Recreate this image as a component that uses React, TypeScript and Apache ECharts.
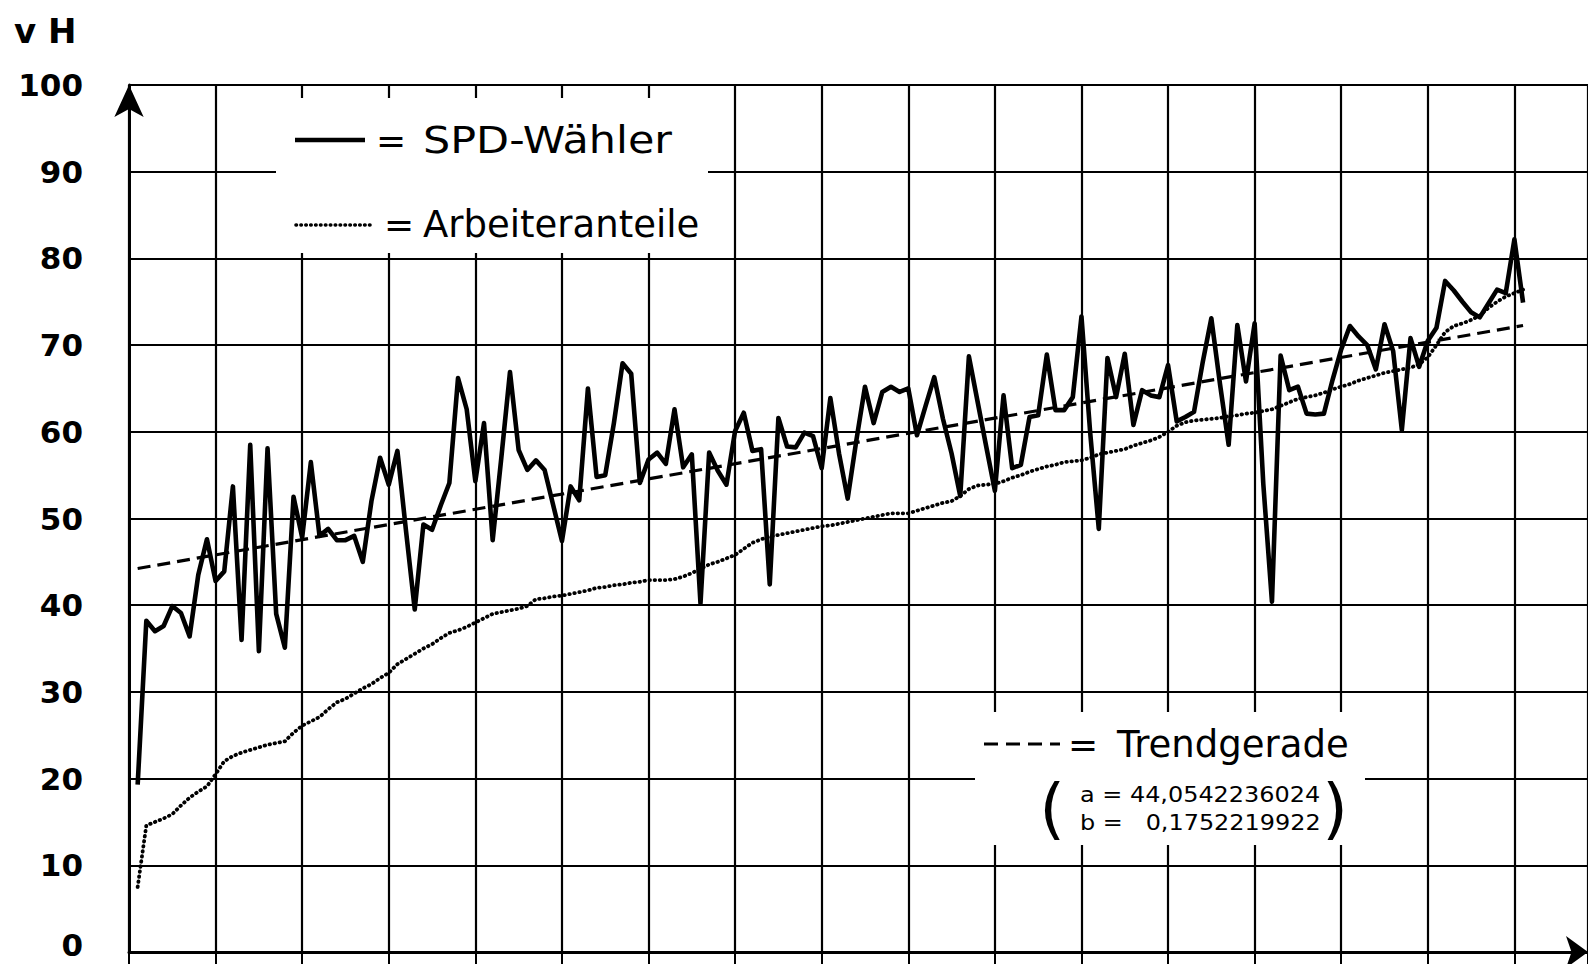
import React, { useEffect, useRef } from "react";
import * as echarts from "echarts";

// SPD-Wähler (vH), Wahlkreise 1..161, sorted by Arbeiteranteil
const spdWaehler: number[] = [
  19.3, 38.2, 37.0, 37.6, 39.9, 39.1, 36.4, 43.5, 47.6, 42.8,
  43.9, 53.7, 36.0, 58.5, 34.7, 58.1, 39.0, 35.1, 52.5, 47.8,
  56.5, 48.0, 48.8, 47.5, 47.5, 48.0, 45.0, 52.0, 57.0, 53.9,
  57.8, 48.5, 39.5, 49.3, 48.7, 51.5, 54.1, 66.2, 62.6, 54.3,
  61.0, 47.5, 57.0, 66.9, 57.9, 55.6, 56.7, 55.6, 51.5, 47.4,
  53.7, 52.1, 65.0, 54.8, 55.0, 61.0, 67.9, 66.7, 54.1, 56.8,
  57.6, 56.3, 62.6, 55.9, 57.4, 40.2, 57.6, 55.5, 53.9, 60.1,
  62.2, 57.8, 58.0, 42.4, 61.6, 58.3, 58.2, 59.9, 59.5, 55.8,
  63.9, 57.5, 52.3, 59.0, 65.2, 61.0, 64.6, 65.2, 64.6, 65.0,
  59.6, 63.0, 66.3, 61.5, 57.5, 52.6, 68.7, 63.5, 58.3, 53.2,
  64.2, 55.8, 56.2, 61.7, 61.9, 68.9, 62.5, 62.5, 64.0, 73.3,
  60.0, 48.8, 68.5, 64.0, 69.0, 60.8, 64.8, 64.2, 64.0, 67.7,
  61.2, 61.7, 62.3, 68.0, 73.1, 65.5, 58.5, 72.3, 65.8, 72.5,
  54.0, 40.4, 68.8, 64.8, 65.2, 62.1, 62.0, 62.1, 66.0, 69.5,
  72.2, 71.0, 70.0, 67.2, 72.4, 69.3, 60.2, 70.8, 67.5, 70.5,
  72.0, 77.4, 76.3, 75.0, 73.8, 73.2, 74.8, 76.4, 76.0, 82.2,
  74.9,
];

// Arbeiteranteile (vH)
const arbeiteranteile: number[] = [
  7.5, 14.6, 15.0, 15.4, 15.9, 16.9, 17.8, 18.5, 19.1, 20.5,
  22.0, 22.6, 23.0, 23.3, 23.6, 23.9, 24.1, 24.3, 25.3, 26.1,
  26.6, 27.1, 28.0, 28.8, 29.2, 29.8, 30.4, 30.9, 31.6, 32.2,
  33.2, 33.8, 34.4, 35.0, 35.5, 36.2, 36.8, 37.1, 37.5, 38.0,
  38.5, 39.0, 39.2, 39.4, 39.6, 39.9, 40.7, 40.8, 41.0, 41.1,
  41.3, 41.5, 41.7, 42.0, 42.1, 42.3, 42.4, 42.6, 42.7, 42.9,
  42.9, 42.9, 43.0, 43.3, 43.7, 44.2, 44.7, 45.0, 45.4, 45.8,
  46.5, 47.2, 47.6, 47.9, 48.1, 48.3, 48.5, 48.7, 48.9, 49.1,
  49.2, 49.4, 49.6, 49.8, 50.0, 50.2, 50.4, 50.6, 50.6, 50.6,
  50.9, 51.2, 51.5, 51.8, 52.0, 52.6, 53.4, 53.8, 53.9, 54.0,
  54.3, 54.7, 55.0, 55.4, 55.7, 56.0, 56.2, 56.5, 56.6, 56.7,
  57.0, 57.4, 57.6, 57.8, 58.0, 58.4, 58.7, 59.0, 59.4, 60.0,
  60.7, 61.1, 61.3, 61.4, 61.5, 61.6, 61.8, 61.9, 62.1, 62.2,
  62.4, 62.6, 63.0, 63.4, 63.8, 64.0, 64.2, 64.5, 64.9, 65.2,
  65.5, 65.9, 66.2, 66.5, 66.8, 67.0, 67.2, 67.4, 67.8, 68.6,
  70.0, 71.5, 72.2, 72.5, 72.9, 73.4, 74.3, 75.0, 75.6, 76.0,
  76.4,
];

// Trendgerade y = a + b * x
const trendA = 44.0542236024;
const trendB = 0.1752219922;
const trendLabelA = "a = 44,0542236024";
const trendLabelB = "b =   0,1752219922";

const yTicks = [0, 10, 20, 30, 40, 50, 60, 70, 80, 90, 100];
const yUnit = "v H";
const legendSpd = "SPD-Wähler";
const legendArb = "Arbeiteranteile";
const legendTrend = "Trendgerade";

const FONT = "'DejaVu Sans', sans-serif";

export default function App() {
  const ref = useRef<HTMLDivElement>(null);

  useEffect(() => {
    if (!ref.current) return;
    const chart = echarts.init(ref.current, undefined, { renderer: "svg" });
    const n = spdWaehler.length;
    const spdData = spdWaehler.map((v, k) => [k + 1, v]);
    const arbData = arbeiteranteile.map((v, k) => [k + 1, v]);
    const trendData = [
      [1, trendA + trendB * 1],
      [n, trendA + trendB * n],
    ];

    chart.setOption({
      animation: false,
      backgroundColor: "#ffffff",
      grid: { left: 129, right: 0, top: 85, bottom: 12, containLabel: false },
      xAxis: {
        type: "value",
        min: 0,
        max: 168.5,
        interval: 10,
        axisLine: {
          show: true,
          onZero: false,
          lineStyle: { color: "#000", width: 3 },
          symbol: ["none", "arrow"],
          symbolSize: [24, 22],
        },
        axisTick: { show: true, inside: false, length: 12, lineStyle: { color: "#000", width: 2 } },
        axisLabel: { show: false },
        splitLine: { show: true, lineStyle: { color: "#000", width: 2.2 } },
      },
      yAxis: {
        type: "value",
        min: yTicks[0],
        max: yTicks[yTicks.length - 1],
        interval: 10,
        axisLine: {
          show: true,
          onZero: false,
          lineStyle: { color: "#000", width: 3 },
          symbol: ["none", "arrow"],
          symbolSize: [22, 32],
        },
        axisTick: { show: false },
        axisLabel: {
          show: true,
          color: "#000",
          fontSize: 31,
          lineHeight: 22,
          fontWeight: "bold",
          fontFamily: FONT,
          margin: 46,
          formatter: (v: number) => (v === yTicks[0] ? "" : String(v)),
        },
        splitLine: { show: true, lineStyle: { color: "#000", width: 2.2 } },
      },
      series: [
        {
          name: legendArb,
          type: "line",
          data: arbData,
          symbol: "none",
          z: 3,
          lineStyle: { color: "#000", width: 3.8, type: [0.5, 4.6], cap: "round" },
        },
        {
          name: legendTrend,
          type: "line",
          data: trendData,
          symbol: "none",
          z: 3,
          lineStyle: { color: "#000", width: 3.2, type: [13, 7] },
        },
        {
          name: legendSpd,
          type: "line",
          data: spdData,
          symbol: "none",
          z: 4,
          lineStyle: { color: "#000", width: 4.6, join: "round" },
        },
      ],
      graphic: [
        {
          type: "text",
          x: 14,
          y: 31,
          style: { text: yUnit, font: `bold 34px ${FONT}`, fill: "#000", textVerticalAlign: "middle" },
        },
        {
          type: "text",
          x: 83,
          y: 945,
          style: {
            text: String(yTicks[0]),
            font: `bold 31px ${FONT}`,
            lineHeight: 22,
            fill: "#000",
            textAlign: "right",
            textVerticalAlign: "middle",
          },
        },
        // legend box
        {
          type: "rect",
          shape: { x: 276, y: 98, width: 432, height: 155 },
          style: { fill: "#fff" },
          z: 10,
        },
        {
          type: "line",
          shape: { x1: 295, y1: 140, x2: 365, y2: 140 },
          style: { stroke: "#000", lineWidth: 4.6 },
          z: 11,
        },
        {
          type: "text",
          x: 376,
          y: 140,
          style: { text: "=", font: `36px ${FONT}`, fill: "#000", textVerticalAlign: "middle" },
          z: 11,
        },
        {
          type: "text",
          x: 423,
          y: 140,
          scaleX: 1.16,
          style: { text: legendSpd, font: `37px ${FONT}`, fill: "#000", textVerticalAlign: "middle" },
          z: 11,
        },
        {
          type: "line",
          shape: { x1: 296, y1: 225, x2: 373, y2: 225 },
          style: { stroke: "#000", lineWidth: 3.6, lineDash: [0.5, 4.4], lineCap: "round" },
          z: 11,
        },
        {
          type: "text",
          x: 384,
          y: 224,
          style: { text: "=", font: `36px ${FONT}`, fill: "#000", textVerticalAlign: "middle" },
          z: 11,
        },
        {
          type: "text",
          x: 423,
          y: 224,
          style: { text: legendArb, font: `37px ${FONT}`, fill: "#000", textVerticalAlign: "middle" },
          z: 11,
        },
        // trend box
        {
          type: "rect",
          shape: { x: 975, y: 712, width: 390, height: 133 },
          style: { fill: "#fff" },
          z: 10,
        },
        {
          type: "line",
          shape: { x1: 984, y1: 744, x2: 1060, y2: 744 },
          style: { stroke: "#000", lineWidth: 3.2, lineDash: [14, 8] },
          z: 11,
        },
        {
          type: "text",
          x: 1068,
          y: 744,
          style: { text: "=", font: `36px ${FONT}`, fill: "#000", textVerticalAlign: "middle" },
          z: 11,
        },
        {
          type: "text",
          x: 1117,
          y: 744,
          style: { text: legendTrend, font: `37px ${FONT}`, fill: "#000", textVerticalAlign: "middle" },
          z: 11,
        },
        {
          type: "text",
          x: 1052,
          y: 808,
          style: { text: "(", font: `66px ${FONT}`, fill: "#000", textAlign: "center", textVerticalAlign: "middle" },
          z: 11,
        },
        {
          type: "text",
          x: 1335,
          y: 808,
          style: { text: ")", font: `66px ${FONT}`, fill: "#000", textAlign: "center", textVerticalAlign: "middle" },
          z: 11,
        },
        {
          type: "text",
          x: 1080,
          y: 795,
          scaleX: 1.14,
          style: { text: trendLabelA, font: `21px ${FONT}`, fill: "#000", textVerticalAlign: "middle" },
          z: 11,
        },
        {
          type: "text",
          x: 1080,
          y: 823,
          scaleX: 1.14,
          style: { text: trendLabelB, font: `21px ${FONT}`, fill: "#000", textVerticalAlign: "middle" },
          z: 11,
        },
      ],
    });

    return () => chart.dispose();
  }, []);

  return (
    <div
      ref={ref}
      style={{ position: "fixed", left: 0, top: 0, width: 1588, height: 964, background: "#fff" }}
    />
  );
}
